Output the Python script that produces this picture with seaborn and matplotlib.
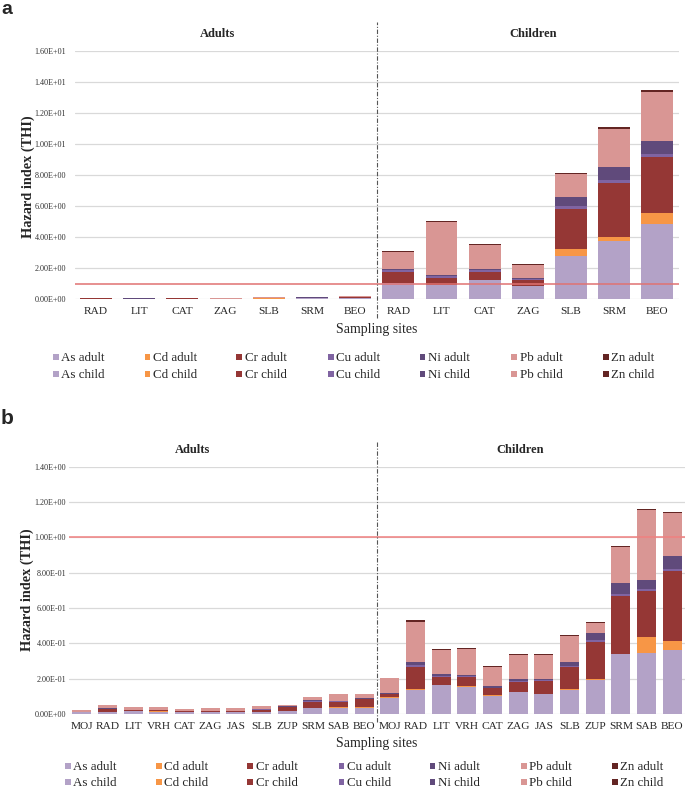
import numpy as np
import pandas as pd
import matplotlib
matplotlib.use("Agg")
import matplotlib.pyplot as plt
import seaborn as sns
from matplotlib.patches import Rectangle

sns.set_style("white")
plt.rcParams['font.family'] = ['Liberation Serif', 'DejaVu Serif']

metals = ["As", "Cd", "Cr", "Cu", "Ni", "Pb", "Zn"]
metal_colors = ["#b3a2c7", "#f79646", "#953735", "#8064a2", "#604a7b", "#d99694", "#632523"]

# ---------------- panel a ----------------
sites_a = ["RAD", "LIT", "CAT", "ZAG", "SLB", "SRM", "BEO"]
a_adult = {
    "As": [0.020, 0.018, 0.023, 0.017, 0.030, 0.040, 0.050],
    "Cd": [0.001, 0.001, 0.001, 0.001, 0.005, 0.004, 0.008],
    "Cr": [0.015, 0.010, 0.011, 0.008, 0.030, 0.045, 0.050],
    "Cu": [0.002, 0.002, 0.002, 0.001, 0.002, 0.002, 0.003],
    "Ni": [0.003, 0.002, 0.002, 0.001, 0.008, 0.012, 0.012],
    "Pb": [0.020, 0.045, 0.020, 0.016, 0.022, 0.035, 0.040],
    "Zn": [0.001, 0.001, 0.001, 0.001, 0.001, 0.001, 0.002],
}
a_child = {
    "As": [1.02, 0.90, 1.23, 0.86, 2.77, 3.74, 4.86],
    "Cd": [0.02, 0.01, 0.01, 0.01, 0.46, 0.26, 0.69],
    "Cr": [0.72, 0.47, 0.52, 0.36, 2.58, 3.50, 3.61],
    "Cu": [0.09, 0.08, 0.09, 0.06, 0.19, 0.18, 0.22],
    "Ni": [0.09, 0.09, 0.09, 0.06, 0.60, 0.84, 0.82],
    "Pb": [1.07, 3.44, 1.56, 0.84, 1.44, 2.48, 3.18],
    "Zn": [0.06, 0.04, 0.07, 0.07, 0.06, 0.07, 0.10],
}
a_yticks = [0, 2, 4, 6, 8, 10, 12, 14, 16]

# ---------------- panel b ----------------
sites_b = ["MOJ", "RAD", "LIT", "VRH", "CAT", "ZAG", "JAS", "SLB", "ZUP", "SRM", "SAB", "BEO"]
b_adult = {
    "As": [0.009, 0.012, 0.015, 0.014, 0.010, 0.012, 0.011, 0.013, 0.018, 0.032, 0.034, 0.036],
    "Cd": [0.0002, 0.0003, 0.0002, 0.0002, 0.0002, 0.0002, 0.0002, 0.0003, 0.0003, 0.0004, 0.007, 0.005],
    "Cr": [0.003, 0.016, 0.005, 0.006, 0.004, 0.005, 0.007, 0.012, 0.020, 0.038, 0.029, 0.044],
    "Cu": [0.0003, 0.001, 0.0006, 0.0006, 0.0005, 0.0007, 0.0006, 0.0008, 0.0009, 0.0009, 0.001, 0.0012],
    "Ni": [0.0003, 0.002, 0.0008, 0.0009, 0.0007, 0.001, 0.0009, 0.002, 0.004, 0.006, 0.005, 0.007],
    "Pb": [0.010, 0.020, 0.016, 0.016, 0.012, 0.015, 0.014, 0.016, 0.009, 0.018, 0.036, 0.019],
    "Zn": [0.0003, 0.0006, 0.0005, 0.0004, 0.0004, 0.0004, 0.0004, 0.0005, 0.0004, 0.0006, 0.0007, 0.0007],
}
b_child = {
    "As": [0.092, 0.136, 0.164, 0.155, 0.104, 0.125, 0.113, 0.136, 0.194, 0.338, 0.345, 0.364],
    "Cd": [0.002, 0.003, 0.002, 0.002, 0.002, 0.002, 0.002, 0.003, 0.003, 0.004, 0.091, 0.051],
    "Cr": [0.019, 0.127, 0.045, 0.051, 0.039, 0.054, 0.070, 0.125, 0.213, 0.326, 0.262, 0.394],
    "Cu": [0.003, 0.009, 0.006, 0.006, 0.005, 0.007, 0.006, 0.008, 0.009, 0.009, 0.010, 0.012],
    "Ni": [0.003, 0.021, 0.008, 0.009, 0.007, 0.010, 0.009, 0.020, 0.041, 0.065, 0.049, 0.075],
    "Pb": [0.083, 0.227, 0.137, 0.147, 0.109, 0.138, 0.136, 0.148, 0.057, 0.203, 0.396, 0.242],
    "Zn": [0.004, 0.007, 0.006, 0.004, 0.004, 0.004, 0.004, 0.005, 0.004, 0.006, 0.007, 0.007],
}
b_yticks = [0, 0.2, 0.4, 0.6, 0.8, 1.0, 1.2, 1.4]

threshold = 1.0
groups = ["adult", "child"]

W, H = 685, 791
fig = plt.figure(figsize=(W / 100, H / 100), dpi=100)


def fy(y):
    return (H - y) / H


def px_axes(left, right, top, bottom):
    return fig.add_axes([left / W, (H - bottom) / H, (right - left) / W, (bottom - top) / H])


def draw_panel(ax, sites, adult, child, yticks, ymax, title_x, div_ext, ypad, line_color):
    keys = ["A" + s for s in sites] + ["C" + s for s in sites]
    labels = sites + sites
    n = len(keys)
    rows = []
    for m in metals:
        vals = list(adult[m]) + list(child[m])
        for k, v in zip(keys, vals):
            rows.append({"site": k, "metal": m, "value": v})
    df = pd.DataFrame(rows)
    df["metal"] = pd.Categorical(df["metal"], metals)
    df = df.sort_values(["site", "metal"])
    df["top"] = df.groupby("site", sort=False)["value"].cumsum()
    for m, c in reversed(list(zip(metals, metal_colors))):
        sub = df[df["metal"] == m]
        sns.barplot(data=sub, x="site", y="top", order=keys, color=c,
                    saturation=1, errorbar=None, width=0.74, linewidth=0,
                    ax=ax, zorder=3)
    ax.set_xlim(-0.5, n - 0.5)
    ax.set_ylim(0, ymax)
    ax.set_yticks(yticks)
    ax.set_yticklabels(["{:.2E}".format(t) for t in yticks], fontsize=5.9,
                       color="#333333")
    ax.set_xticks(range(n))
    ax.set_xticklabels(labels, fontsize=8.2)
    ax.tick_params(axis="both", length=0)
    ax.tick_params(axis="y", pad=ypad)
    ax.tick_params(axis="x", pad=5.5)
    ax.grid(axis="y", color="#d9d9d9", lw=0.9, zorder=0)
    ax.set_axisbelow(True)
    for s in ax.spines.values():
        s.set_visible(False)
    ax.set_xlabel("")
    ax.set_ylabel("")
    ax.axhline(threshold, color=line_color, lw=1.1, zorder=4)
    ax.axvline(n / 2 - 0.5, ymin=div_ext[0], ymax=div_ext[1], clip_on=False,
               color="#555555", lw=0.8, ls=(0, (4, 1.5, 1, 1.5)), zorder=5)
    ax.text(title_x[0], 1.045, "Adults", transform=ax.transAxes, ha="center",
            va="bottom", fontsize=9, fontweight="bold")
    ax.text(title_x[1], 1.045, "Children", transform=ax.transAxes, ha="center",
            va="bottom", fontsize=9, fontweight="bold")


def add_legend(x0, pitch, y_rows):
    for i, (m, c) in enumerate(zip(metals, metal_colors)):
        xc = x0 + i * pitch
        for g, yc in zip(groups, y_rows):
            fig.patches.append(Rectangle(((xc - 2.8) / W, fy(yc + 2.8)), 5.6 / W, 5.6 / H,
                                         transform=fig.transFigure, facecolor=c,
                                         edgecolor="none"))
            fig.text((xc + 5.5) / W, fy(yc + 4.3), f"{m} {g}", fontsize=9.4,
                     ha="left", va="baseline")


# panel a
ax_a = px_axes(74.5, 679, 51, 299)
draw_panel(ax_a, sites_a, a_adult, a_child, a_yticks, 16,
           (0.237, 0.758), (-0.077, 1.117), 6, "#e07272")
fig.text(376.5 / W, fy(330), "Sampling sites", ha="center", va="center", fontsize=10)
fig.text(28 / W, fy(177), "Hazard index (THI)", rotation=90, ha="center",
         va="center", fontsize=10.3, fontweight="bold")
add_legend(55.7, 91.7, (357, 374))
fig.text(1 / W, fy(9), "a", fontsize=14, fontweight="bold",
         family="Liberation Sans", va="center")

# panel b
ax_b = px_axes(69, 685, 466.7, 714)
draw_panel(ax_b, sites_b, b_adult, b_child, b_yticks, 1.4,
           (0.200, 0.733), (-0.032, 1.104), 2, "#f08080")
fig.text(376.5 / W, fy(743), "Sampling sites", ha="center", va="center", fontsize=10)
fig.text(27 / W, fy(590), "Hazard index (THI)", rotation=90, ha="center",
         va="center", fontsize=10.3, fontweight="bold")
add_legend(67.8, 91.2, (766, 782))
fig.text(1 / W, fy(419), "b", fontsize=15, fontweight="bold",
         family="Liberation Sans", va="center")

fig.savefig("out.png", dpi=100)
